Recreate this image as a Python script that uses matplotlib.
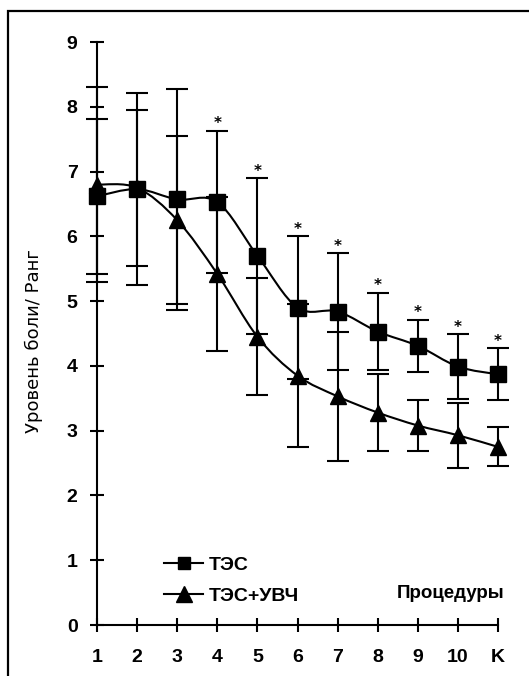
import matplotlib
matplotlib.use("Agg")
import matplotlib.pyplot as plt
from matplotlib.path import Path
from matplotlib.patches import PathPatch, Rectangle
from matplotlib.lines import Line2D

# процедуры 1..10 и K (контроль)
procedures = [1, 2, 3, 4, 5, 6, 7, 8, 9, 10, 11]
tick_labels = ["1", "2", "3", "4", "5", "6", "7", "8", "9", "10", "K"]

# ТЭС
tes = [6.62, 6.73, 6.57, 6.53, 5.70, 4.90, 4.84, 4.53, 4.31, 3.99, 3.87]
tes_err = [1.20, 1.48, 1.71, 1.10, 1.20, 1.10, 0.90, 0.60, 0.40, 0.50, 0.40]

# ТЭС+УВЧ
tes_uhf = [6.80, 6.75, 6.25, 5.42, 4.45, 3.85, 3.53, 3.28, 3.08, 2.93, 2.75]
tes_uhf_err = [1.50, 1.20, 1.30, 1.19, 0.90, 1.10, 1.00, 0.60, 0.40, 0.50, 0.30]

# звёздочки (достоверные различия) над ТЭС
star_idx = [3, 4, 5, 6, 7, 8, 9, 10]

sans = ["Liberation Sans Narrow", "Liberation Sans", "DejaVu Sans"]


def smooth_path(xs, ys, t=1.0):
    # кривая Катмулла-Рома через точки, в виде кубических Безье
    verts = [(xs[0], ys[0])]
    codes = [Path.MOVETO]
    n = len(xs)
    for i in range(n - 1):
        x0, y0 = (xs[i - 1], ys[i - 1]) if i > 0 else (xs[i], ys[i])
        x3, y3 = (xs[i + 2], ys[i + 2]) if i + 2 < n else (xs[i + 1], ys[i + 1])
        c1 = (xs[i] + t * (xs[i + 1] - x0) / 6, ys[i] + t * (ys[i + 1] - y0) / 6)
        c2 = (xs[i + 1] - t * (x3 - xs[i]) / 6, ys[i + 1] - t * (y3 - ys[i]) / 6)
        verts += [c1, c2, (xs[i + 1], ys[i + 1])]
        codes += [Path.CURVE4] * 3
    return Path(verts, codes)


fig = plt.figure(figsize=(5.29, 6.76), dpi=100)
ax = fig.add_axes([0.1456, 0.0467, 0.8336, 0.9198])
ax.set_xlim(0.5, 11.5)
ax.set_ylim(-0.3, 9.3)

# рамка рисунка
fig.patches.append(Rectangle((8 / 529, -0.5), 2, 1.5 - 11 / 676,
                             transform=fig.transFigure, fill=False,
                             edgecolor="black", linewidth=1.6))

for sp in ["top", "right"]:
    ax.spines[sp].set_visible(False)
ax.spines["left"].set_position(("data", 1))
ax.spines["bottom"].set_position(("data", 0))
ax.spines["left"].set_bounds(0, 9)
ax.spines["bottom"].set_bounds(1, 11)
for sp in ["left", "bottom"]:
    ax.spines[sp].set_linewidth(1.5)

ax.set_xticks(procedures)
ax.set_xticklabels(tick_labels)
ax.set_yticks(range(10))
ax.tick_params(direction="inout", length=10, width=1.5, labelsize=14)
ax.tick_params(axis="x", pad=12)
ax.tick_params(axis="y", pad=9)
for lab in ax.get_xticklabels() + ax.get_yticklabels():
    lab.set_family(sans)
    lab.set_weight("bold")

# кривые
for ys in [tes, tes_uhf]:
    ax.add_patch(PathPatch(smooth_path(procedures, ys), fill=False,
                           edgecolor="black", linewidth=1.5, zorder=2))

ax.errorbar(procedures, tes, yerr=tes_err, fmt="none", ecolor="black",
            elinewidth=1.5, capsize=8, capthick=1.5, zorder=1)
ax.errorbar(procedures, tes_uhf, yerr=tes_uhf_err, fmt="none", ecolor="black",
            elinewidth=1.5, capsize=8, capthick=1.5, zorder=1)

ax.plot(procedures, tes, "s", color="black", markersize=11, zorder=3, clip_on=False)
ax.plot(procedures, tes_uhf, "^", color="black", markersize=12, zorder=3, clip_on=False)

for i in star_idx:
    ax.annotate("*", (procedures[i], tes[i] + tes_err[i]), xytext=(0, 5),
                textcoords="offset points", ha="center", va="center",
                fontsize=11, fontweight="bold")

ax.set_ylabel("Уровень боли/ Ранг", fontsize=13, family=["DejaVu Sans"])
ax.yaxis.set_label_coords(-0.077, 0.488)

handles = [Line2D([], [], color="black", lw=1.5, marker="s", markersize=9),
           Line2D([], [], color="black", lw=1.5, marker="^", markersize=11)]
leg = ax.legend(handles, ["ТЭС", "ТЭС+УВЧ"], loc="upper left",
                bbox_to_anchor=(2.24, 1.33), bbox_transform=ax.transData,
                frameon=False, handlelength=2.0, handletextpad=0.3,
                labelspacing=0.7,
                prop={"family": sans, "weight": "bold", "size": 14})

ax.text(11.15, 0.49, "Процедуры", ha="right", va="center", fontsize=13.5,
        family=sans, fontweight="bold")

fig.savefig("out.png", dpi=100)
